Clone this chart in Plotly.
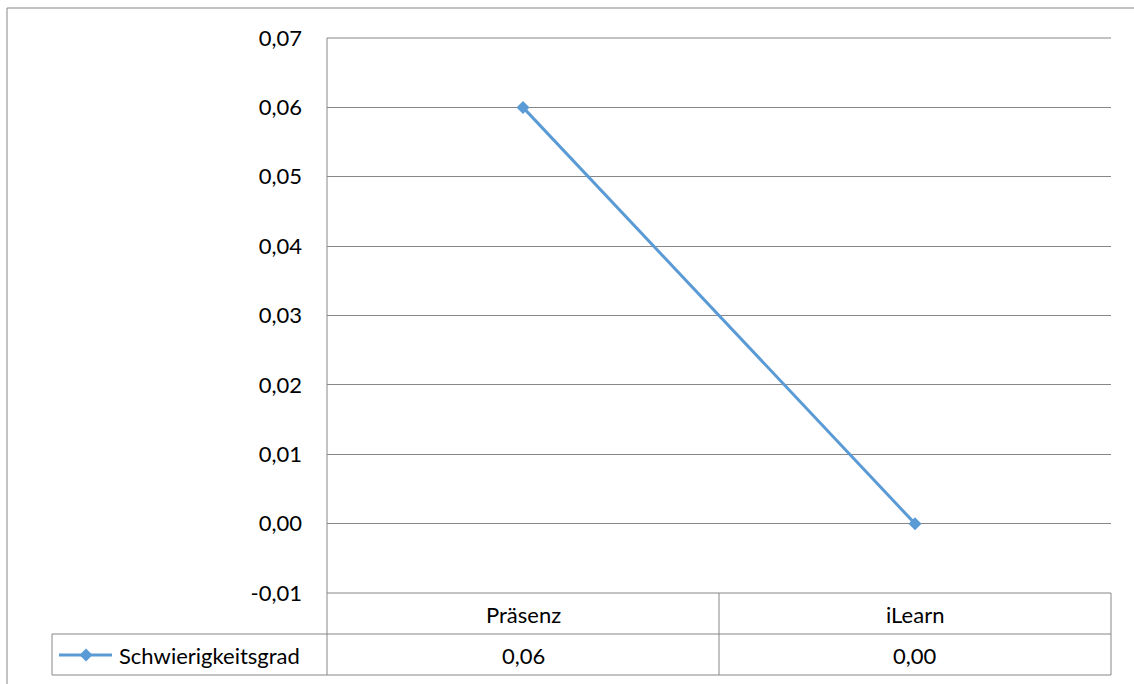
import plotly.graph_objects as go

categories = ["Präsenz", "iLearn"]
values = [0.06, 0.00]
series_name = "Schwierigkeitsgrad"
y_ticks = [-0.01, 0.0, 0.01, 0.02, 0.03, 0.04, 0.05, 0.06, 0.07]

W, H = 1134, 684
L, R, T, B = 327, 1111, 38, 593
pw, ph = R - L, B - T

def px(x):
    return (x - L) / pw

def py(y):
    return (B - y) / ph

def fmt(v):
    return f"{v:.2f}".replace(".", ",")

LINE = "#5B9BD5"
GRID = "#878787"
FONT = "Lato, Carlito, Calibri, sans-serif"
FS = 22

fig = go.Figure()
fig.add_trace(go.Scatter(
    x=list(range(len(categories))), y=values, mode="lines+markers",
    name=series_name,
    line=dict(color=LINE, width=3),
    marker=dict(symbol="diamond", size=10, color=LINE),
    showlegend=False, cliponaxis=False,
))

shapes = []
def seg(x0, y0, x1, y1, color=GRID, w=1, layer="above"):
    shapes.append(dict(type="line", xref="paper", yref="paper", layer=layer,
                       x0=px(x0), y0=py(y0), x1=px(x1), y1=py(y1),
                       line=dict(color=color, width=w)))

# chart border
seg(7, 8, W + 5, 8)
seg(7, 8, 7, H + 5)
# top and bottom plot-area edges (gridlines at range ends)
seg(L, T, R, T, layer="below")
seg(L, B, R, B, layer="below")
# axis line extended through table
seg(L, T, L, 675)
# table
row1, row2, row3 = 593, 634, 675
seg(52, row2, R, row2)
seg(52, row3, R, row3)
seg(52, row2, 52, row3)
seg(R, row1, R, row3)
n = len(categories)
for i in range(1, n):
    xb = L + pw * i / n
    seg(xb, row1, xb, row3)
# legend key
seg(59, 655, 112, 655, LINE, 3)
cx, cy, r = 86, 655, 6.5
shapes.append(dict(type="path", xref="paper", yref="paper",
                   path=f"M {px(cx-r)} {py(cy)} L {px(cx)} {py(cy-r)} L {px(cx+r)} {py(cy)} L {px(cx)} {py(cy+r)} Z",
                   fillcolor=LINE, line=dict(color=LINE, width=0)))

annotations = []
for i, (c, v) in enumerate(zip(categories, values)):
    annotations.append(dict(x=i, xref="x", y=py(614), yref="paper", text=c,
                            showarrow=False, font=dict(size=FS, color="#000", family=FONT),
                            xanchor="center", yanchor="middle"))
    annotations.append(dict(x=i, xref="x", y=py(655), yref="paper",
                            text=fmt(v),
                            showarrow=False, font=dict(size=FS, color="#000", family=FONT),
                            xanchor="center", yanchor="middle"))
annotations.append(dict(x=px(117), xref="paper", y=py(655), yref="paper", text=series_name,
                        showarrow=False, font=dict(size=FS, color="#000", family=FONT),
                        xanchor="left", yanchor="middle"))

fig.update_layout(
    width=W, height=H,
    margin=dict(l=L, r=W - R, t=T, b=H - B, pad=0),
    paper_bgcolor="white", plot_bgcolor="white",
    font=dict(family=FONT, size=FS, color="#000"),
    xaxis=dict(range=[-0.5, n - 0.5], showgrid=False, showticklabels=False,
               zeroline=False, showline=False, fixedrange=True),
    yaxis=dict(range=[-0.01, 0.07], tickvals=y_ticks, ticktext=[fmt(t) for t in y_ticks],
               showgrid=True, gridcolor=GRID, gridwidth=1, zeroline=False,
               showline=False, ticks="", ticklabelstandoff=24, fixedrange=True),
    shapes=shapes, annotations=annotations,
)

fig.write_html("out.html", config={"displayModeBar": False, "staticPlot": True},
               post_script="document.body.style.margin='0px';document.body.style.overflow='hidden';")
